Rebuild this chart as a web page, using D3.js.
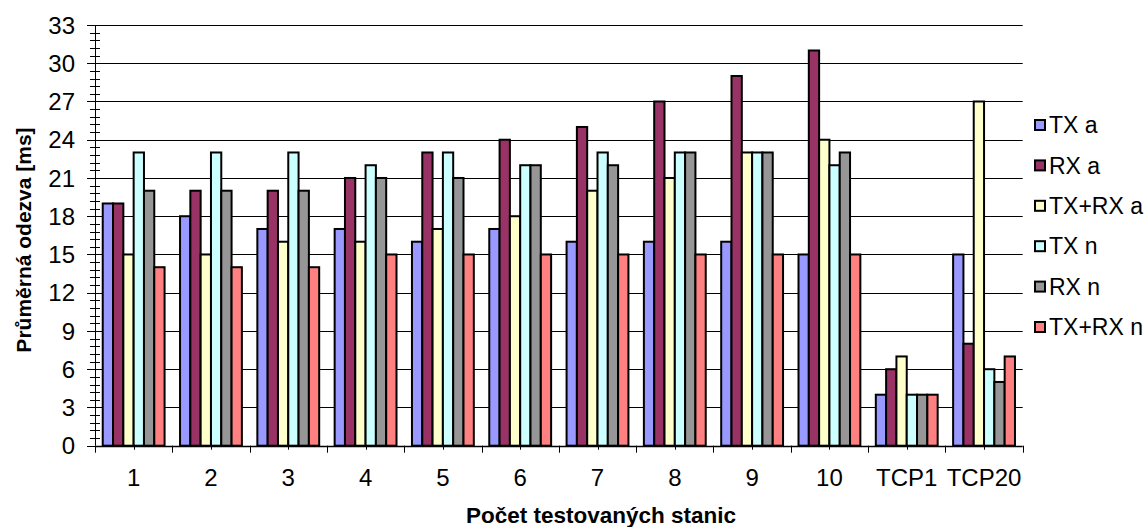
<!DOCTYPE html>
<html>
<head>
<meta charset="utf-8">
<script src="https://cdn.jsdelivr.net/npm/d3@7"></script>
<style>
  html, body { margin: 0; padding: 0; background: #fff; }
  svg { display: block; font-family: Arial, "Liberation Sans", sans-serif; }
</style>
</head>
<body>
<svg id="chart" width="1146" height="527"></svg>
<script>
// Average response per number of tested stations
const categories = ["1", "2", "3", "4", "5", "6", "7", "8", "9", "10", "TCP1", "TCP20"];
const seriesNames = ["TX a", "RX a", "TX+RX a", "TX n", "RX n", "TX+RX n"];
const txA   = [19, 18, 17, 17, 16, 17, 16, 16, 16, 15, 4, 15];
const rxA   = [19, 20, 20, 21, 23, 24, 25, 27, 29, 31, 6, 8];
const txrxA = [15, 15, 16, 16, 17, 18, 20, 21, 23, 24, 7, 27];
const txN   = [23, 23, 23, 22, 23, 22, 23, 23, 23, 22, 4, 6];
const rxN   = [20, 20, 20, 21, 21, 22, 22, 23, 23, 23, 4, 5];
const txrxN = [14, 14, 14, 15, 15, 15, 15, 15, 15, 15, 4, 7];
const yTicks = [0, 3, 6, 9, 12, 15, 18, 21, 24, 27, 30, 33];
const colors = ["#9999FF", "#993366", "#FFFFCC", "#CCFFFF", "#969696", "#FF8080"];

const seriesValues = [txA, rxA, txrxA, txN, rxN, txrxN];

const svg = d3.select("#chart");
const plot = { left: 95, right: 1022.7, top: 25, bottom: 445.7 };

const y = d3.scaleLinear().domain([0, 33]).range([plot.bottom, plot.top]);
const x0 = d3.scaleBand().domain(categories).range([plot.left, plot.right])
  .paddingInner(0.2).paddingOuter(0.1);
const x1 = d3.scaleBand().domain(seriesNames).range([0, x0.bandwidth()]);
const xEdge = d3.scaleLinear().domain([0, categories.length]).range([plot.left, plot.right]);

// horizontal grid lines
svg.append("g").selectAll("line")
  .data(yTicks.filter(d => d > 0))
  .join("line")
  .attr("x1", plot.left).attr("x2", plot.right)
  .attr("y1", d => Math.round(y(d)) + 0.5).attr("y2", d => Math.round(y(d)) + 0.5)
  .attr("stroke", "#000").attr("stroke-width", 1);

// bars
const groups = svg.append("g").selectAll("g")
  .data(categories.map((c, i) => ({ c, vals: seriesValues.map((s, k) => ({ name: seriesNames[k], v: s[i], k })) })))
  .join("g")
  .attr("transform", d => `translate(${x0(d.c)},0)`);

groups.selectAll("rect")
  .data(d => d.vals)
  .join("rect")
  .attr("x", d => x1(d.name))
  .attr("y", d => y(d.v))
  .attr("width", x1.bandwidth())
  .attr("height", d => y(0) - y(d.v))
  .attr("fill", d => colors[d.k])
  .attr("stroke", "#000")
  .attr("stroke-width", 2);

// y axis: line, major ticks, minor ticks, labels
const yAxis = svg.append("g");
yAxis.append("line")
  .attr("x1", plot.left + 0.5).attr("x2", plot.left + 0.5)
  .attr("y1", plot.top).attr("y2", plot.bottom)
  .attr("stroke", "#000");
const minor = d3.range(0, 33.001, 0.6);
yAxis.selectAll("line.minor").data(minor).join("line").attr("class", "minor")
  .attr("x1", plot.left - 5).attr("x2", plot.left + 5)
  .attr("y1", d => Math.round(y(d)) + 0.5).attr("y2", d => Math.round(y(d)) + 0.5)
  .attr("stroke", "#000");
yAxis.selectAll("line.major").data(yTicks).join("line").attr("class", "major")
  .attr("x1", plot.left - 8).attr("x2", plot.left)
  .attr("y1", d => Math.round(y(d)) + 0.5).attr("y2", d => Math.round(y(d)) + 0.5)
  .attr("stroke", "#000");
yAxis.selectAll("text").data(yTicks).join("text")
  .attr("x", plot.left - 20).attr("y", d => y(d))
  .attr("dy", "0.36em")
  .attr("text-anchor", "end")
  .attr("font-size", 24)
  .text(d => d);

// x axis: line, boundary ticks, centre ticks, labels
const xAxis = svg.append("g");
xAxis.append("line")
  .attr("x1", plot.left).attr("x2", plot.right)
  .attr("y1", Math.round(plot.bottom) + 0.5).attr("y2", Math.round(plot.bottom) + 0.5)
  .attr("stroke", "#000").attr("stroke-width", 1.5);
xAxis.selectAll("line.edge").data(d3.range(categories.length + 1)).join("line").attr("class", "edge")
  .attr("x1", d => Math.round(xEdge(d)) + 0.5).attr("x2", d => Math.round(xEdge(d)) + 0.5)
  .attr("y1", plot.bottom).attr("y2", plot.bottom + 7)
  .attr("stroke", "#000");
xAxis.selectAll("line.mid").data(categories).join("line").attr("class", "mid")
  .attr("x1", d => Math.round(x0(d) + x0.bandwidth() / 2) + 0.5)
  .attr("x2", d => Math.round(x0(d) + x0.bandwidth() / 2) + 0.5)
  .attr("y1", plot.bottom).attr("y2", plot.bottom + 4)
  .attr("stroke", "#000");
xAxis.selectAll("text").data(categories).join("text")
  .attr("x", d => x0(d) + x0.bandwidth() / 2)
  .attr("y", 477)
  .attr("dy", "0.36em")
  .attr("text-anchor", "middle")
  .attr("font-size", 24)
  .text(d => d);

// axis titles
svg.append("text")
  .attr("transform", "translate(23,240) rotate(-90)")
  .attr("dy", "0.36em")
  .attr("text-anchor", "middle")
  .attr("font-size", 21).attr("font-weight", "bold")
  .text("Průměrná odezva [ms]");
svg.append("text")
  .attr("x", 601).attr("y", 515)
  .attr("dy", "0.36em")
  .attr("text-anchor", "middle")
  .attr("font-size", 22.5).attr("font-weight", "bold")
  .text("Počet testovaných stanic");

// legend
const legendY = d3.scalePoint().domain(seriesNames).range([125, 327]);
const legend = svg.append("g").selectAll("g").data(seriesNames).join("g")
  .attr("transform", d => `translate(1035,${legendY(d)})`);
legend.append("rect")
  .attr("x", 0).attr("y", -5).attr("width", 10).attr("height", 10)
  .attr("fill", (d, i) => colors[i]).attr("stroke", "#000").attr("stroke-width", 2);
legend.append("text")
  .attr("x", 14).attr("dy", "0.36em")
  .attr("font-size", 23)
  .text(d => d);
</script>
</body>
</html>
